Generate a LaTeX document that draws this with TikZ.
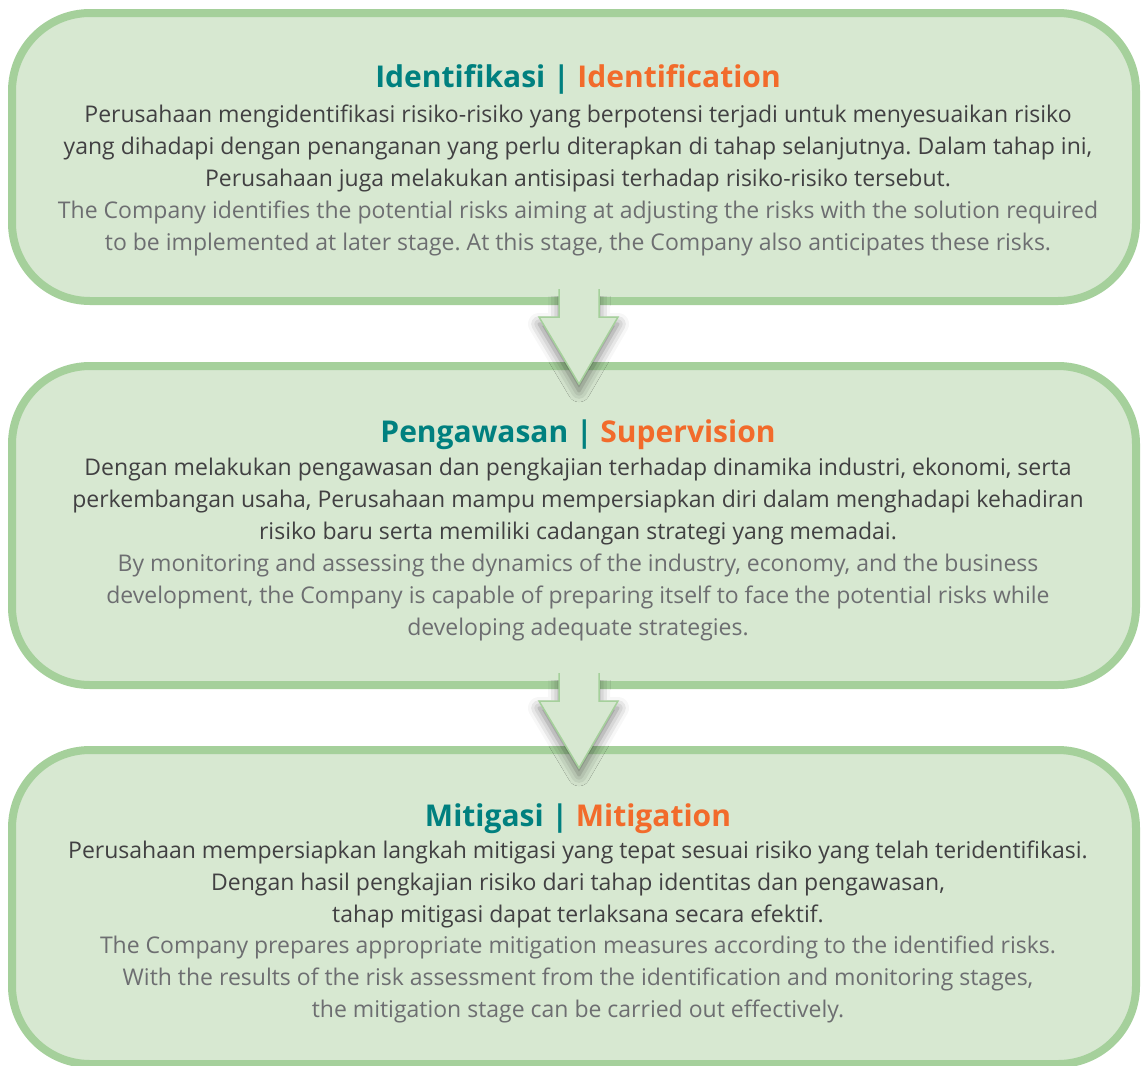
\documentclass[tikz,border=0pt]{standalone}
\usepackage{fontspec}
\setmainfont{Open Sans}
\usetikzlibrary{calc,shadows.blur}
\definecolor{boxfill}{HTML}{D7E8D1}
\definecolor{boxline}{HTML}{A5D09B}
\definecolor{tealc}{HTML}{00807F}
\definecolor{orangec}{HTML}{F26B2B}
\definecolor{bodyc}{HTML}{414042}
\definecolor{engc}{HTML}{6D6E71}
\frenchspacing
\tikzset{
  stagebox/.style={draw=boxline, fill=boxfill, line width=8pt, rounded corners=78pt, inner sep=0pt},
  ttl/.style={anchor=base, inner sep=0pt, font=\fontsize{30}{34}\selectfont\bfseries},
  ind/.style={anchor=base, inner sep=0pt, font=\frenchspacing\fontsize{23}{26}\selectfont, text=bodyc},
  eng/.style={anchor=base, inner sep=0pt, font=\frenchspacing\fontsize{23}{26}\selectfont, text=engc},
  blockarrow/.style={draw=boxline, fill=boxfill, line width=1.5pt, line join=miter,
    blur shadow={shadow xshift=0pt, shadow yshift=-7pt, shadow blur radius=11pt, shadow opacity=50}}
}
\begin{document}
\begin{tikzpicture}[x=1pt,y=-1pt]
\useasboundingbox (0,0) rectangle (1141,1066);
\node[stagebox, minimum width=1124pt, minimum height=288pt] (b1) at (574,157) {};
\node[stagebox, minimum width=1124pt, minimum height=319pt] (b2) at (574,525.5) {};
\node[stagebox, minimum width=1124pt, minimum height=314pt] (b3) at (574,907) {};
\foreach \a in {b1,b2}{
  \draw[blockarrow] ($(\a.south)+(-15,-16)$) -- ($(\a.south)+(-15,12)$) -- ($(\a.south)+(-35,12)$)
    -- ($(\a.south)+(5,79)$) -- ($(\a.south)+(44,12)$) -- ($(\a.south)+(25,12)$) -- ($(\a.south)+(25,-16)$);
}
% Box 1
\node[ttl] (t1) at (578,87) {\textcolor{tealc}{Identifikasi |} \textcolor{orangec}{Identification}};
\node[ind] (i11) at (578,122) {Perusahaan mengidentifikasi risiko-risiko yang berpotensi terjadi untuk menyesuaikan risiko};
\node[ind] (i12) at (578,154) {yang dihadapi dengan penanganan yang perlu diterapkan di tahap selanjutnya. Dalam tahap ini,};
\node[ind] (i13) at (578,186) {Perusahaan juga melakukan antisipasi terhadap risiko-risiko tersebut.};
\node[eng] (e11) at (578,218) {The Company identifies the potential risks aiming at adjusting the risks with the solution required};
\node[eng] (e12) at (578,250) {to be implemented at later stage. At this stage, the Company also anticipates these risks.};
% Box 2
\node[ttl] (t2) at (578,442) {\textcolor{tealc}{Pengawasan |} \textcolor{orangec}{Supervision}};
\node[ind] (i21) at (578,475) {Dengan melakukan pengawasan dan pengkajian terhadap dinamika industri, ekonomi, serta};
\node[ind] (i22) at (578,507) {perkembangan usaha, Perusahaan mampu mempersiapkan diri dalam menghadapi kehadiran};
\node[ind] (i23) at (578,539) {risiko baru serta memiliki cadangan strategi yang memadai.};
\node[eng] (e21) at (578,571) {By monitoring and assessing the dynamics of the industry, economy, and the business};
\node[eng] (e22) at (578,603) {development, the Company is capable of preparing itself to face the potential risks while};
\node[eng] (e23) at (578,635) {developing adequate strategies.};
% Box 3
\node[ttl] (t3) at (578,826) {\textcolor{tealc}{Mitigasi |} \textcolor{orangec}{Mitigation}};
\node[ind] (i31) at (578,858) {Perusahaan mempersiapkan langkah mitigasi yang tepat sesuai risiko yang telah teridentifikasi.};
\node[ind] (i32) at (578,890) {Dengan hasil pengkajian risiko dari tahap identitas dan pengawasan,};
\node[ind] (i33) at (578,922) {tahap mitigasi dapat terlaksana secara efektif.};
\node[eng] (e31) at (578,953) {The Company prepares appropriate mitigation measures according to the identified risks.};
\node[eng] (e32) at (578,985) {With the results of the risk assessment from the identification and monitoring stages,};
\node[eng] (e33) at (578,1017) {the mitigation stage can be carried out effectively.};
\end{tikzpicture}
\end{document}
